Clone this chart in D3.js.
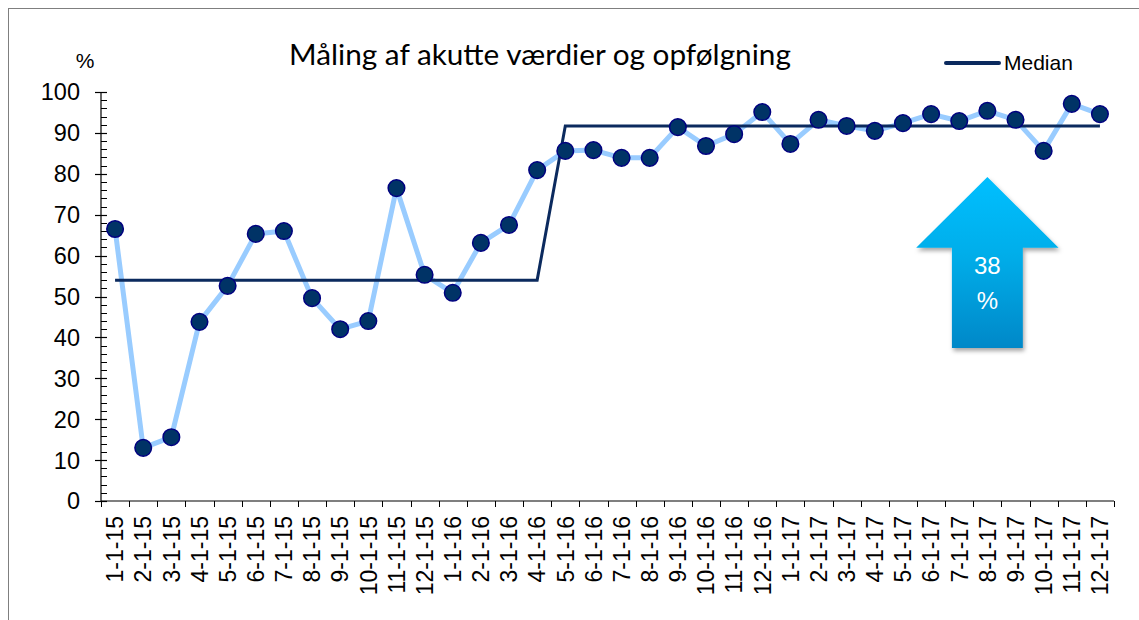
<!DOCTYPE html>
<html>
<head>
<meta charset="utf-8">
<script src="https://cdn.jsdelivr.net/npm/d3@7"></script>
<style>
  html, body { margin: 0; padding: 0; background: #fff; }
  svg { display: block; }
</style>
</head>
<body>
<svg id="chart" width="1139" height="620"></svg>
<script>
const categories = ["1-1-15","2-1-15","3-1-15","4-1-15","5-1-15","6-1-15","7-1-15","8-1-15","9-1-15","10-1-15","11-1-15","12-1-15",
  "1-1-16","2-1-16","3-1-16","4-1-16","5-1-16","6-1-16","7-1-16","8-1-16","9-1-16","10-1-16","11-1-16","12-1-16",
  "1-1-17","2-1-17","3-1-17","4-1-17","5-1-17","6-1-17","7-1-17","8-1-17","9-1-17","10-1-17","11-1-17","12-1-17"];
const values = [66.5,13,15.6,43.8,52.6,65.3,66,49.6,42,44,76.5,55.3,
  50.9,63.1,67.5,80.9,85.6,85.8,83.9,83.9,91.4,86.8,89.7,95.1,
  87.3,93.2,91.7,90.5,92.4,94.6,92.9,95.4,93.2,85.6,97.1,94.6];
const median = [54,54,54,54,54,54,54,54,54,54,54,54,54,54,54,54,
  91.7,91.7,91.7,91.7,91.7,91.7,91.7,91.7,91.7,91.7,91.7,91.7,91.7,91.7,91.7,91.7,91.7,91.7,91.7,91.7];
const yTicks = [0,10,20,30,40,50,60,70,80,90,100];
const titleText = "Måling af akutte værdier og opfølgning";
const legendLabel = "Median";
const arrowLabel = ["38", "%"];
const arrowAt = "8-1-17";
const arrowTop = 79.2, arrowShoulder = 61.9, arrowBottom = 37.4;

const svg = d3.select("#chart");
const defs = svg.append("defs");
const grad = defs.append("linearGradient").attr("id","arrowGrad").attr("x1",0).attr("y1",0).attr("x2",0).attr("y2",1);
grad.append("stop").attr("offset","0%").attr("stop-color","#00BFFF");
grad.append("stop").attr("offset","45%").attr("stop-color","#00AEEA");
grad.append("stop").attr("offset","100%").attr("stop-color","#0088C8");
const filt = defs.append("filter").attr("id","shadow").attr("x","-20%").attr("y","-20%").attr("width","140%").attr("height","140%");
filt.append("feDropShadow").attr("dx",1.5).attr("dy",3).attr("stdDeviation",2.2).attr("flood-color","#000").attr("flood-opacity",0.35);

// frame
svg.append("rect").attr("x",8.5).attr("y",8.5).attr("width",1200).attr("height",700)
  .attr("fill","none").attr("stroke","#7f7f7f").attr("stroke-width",1);

const x = d3.scaleBand().domain(categories).range([101, 1114]).paddingInner(0).paddingOuter(0);
const y = d3.scaleLinear().domain([0,100]).range([501, 92]);
const cx = d => x(d) + x.bandwidth()/2;

const axisFont = "'Liberation Sans', Arial, sans-serif";

// Y axis
const yAxisG = svg.append("g").attr("transform","translate(101,0)");
yAxisG.append("line").attr("x1",0).attr("x2",0).attr("y1",y(100)).attr("y2",y(0)).attr("stroke","#000").attr("stroke-width",1.2);
const minor = d3.range(0,101,2).filter(v => v % 10 !== 0);
yAxisG.selectAll(".minor").data(minor).join("line")
  .attr("x1",0).attr("x2",6).attr("y1",d=>Math.round(y(d))+0.5).attr("y2",d=>Math.round(y(d))+0.5)
  .attr("stroke","#000").attr("stroke-width",1);
yAxisG.selectAll(".major").data(yTicks).join("line")
  .attr("x1",-6).attr("x2",6).attr("y1",d=>Math.round(y(d))+0.5).attr("y2",d=>Math.round(y(d))+0.5)
  .attr("stroke","#000").attr("stroke-width",1.2);
yAxisG.selectAll(".lab").data(yTicks).join("text")
  .attr("x",-21).attr("y",d=>y(d)).attr("dy","0.36em").attr("text-anchor","end")
  .attr("font-family",axisFont).attr("font-size",23.5).attr("fill","#000").text(d=>d);

svg.append("text").attr("x",85).attr("y",68).attr("text-anchor","middle")
  .attr("font-family",axisFont).attr("font-size",21).text("%");

// X axis
const xAxisG = svg.append("g").attr("transform",`translate(0,${y(0)})`);
xAxisG.append("line").attr("x1",101).attr("x2",1114).attr("y1",0).attr("y2",0).attr("stroke","#000").attr("stroke-width",1.2);
const boundaries = categories.map(c => x(c)).concat([x(categories[categories.length-1]) + x.bandwidth()]);
xAxisG.selectAll(".xt").data(boundaries).join("line")
  .attr("x1",d=>Math.round(d)+0.5).attr("x2",d=>Math.round(d)+0.5).attr("y1",0).attr("y2",6)
  .attr("stroke","#000").attr("stroke-width",1);
xAxisG.selectAll(".xl").data(categories).join("text")
  .attr("transform",d=>`translate(${cx(d)},15) rotate(-90)`)
  .attr("text-anchor","end").attr("dy","0.36em")
  .attr("font-family",axisFont).attr("font-size",23).attr("fill","#000").text(d=>d);

// data line
const lineGen = d3.line().x((d,i)=>cx(categories[i])).y(d=>y(d));
svg.append("path").datum(values).attr("d",lineGen)
  .attr("fill","none").attr("stroke","#99CCFF").attr("stroke-width",5).attr("stroke-linejoin","round");

// median line
svg.append("path").datum(median).attr("d",lineGen)
  .attr("fill","none").attr("stroke","#0B2A5E").attr("stroke-width",3);

// markers
svg.selectAll(".pt").data(values).join("circle")
  .attr("cx",(d,i)=>cx(categories[i])).attr("cy",d=>y(d)).attr("r",8.3)
  .attr("fill","#003366").attr("stroke","#000080").attr("stroke-width",1.5);

// title
const title = svg.append("text").attr("x",540).attr("y",65).attr("text-anchor","middle")
  .attr("font-family","Lato, 'Open Sans', sans-serif").attr("font-size",27).attr("fill","#000").text(titleText);
const tw = title.node().getComputedTextLength();
title.attr("font-size", 27 * 502 / tw);

// legend
svg.append("line").attr("x1",946).attr("x2",999).attr("y1",63).attr("y2",63)
  .attr("stroke","#0B2A5E").attr("stroke-width",4).attr("stroke-linecap","round");
svg.append("text").attr("x",1004).attr("y",70).attr("font-family",axisFont).attr("font-size",21).text(legendLabel);

// arrow annotation
const ax = cx(arrowAt);
const headHalf = x.bandwidth()*2.53, shaftHalf = x.bandwidth()*1.26;
const pts = [
  [ax, y(arrowTop)],
  [ax+headHalf, y(arrowShoulder)],
  [ax+shaftHalf, y(arrowShoulder)],
  [ax+shaftHalf, y(arrowBottom)],
  [ax-shaftHalf, y(arrowBottom)],
  [ax-shaftHalf, y(arrowShoulder)],
  [ax-headHalf, y(arrowShoulder)]
];
svg.append("path").attr("d", d3.line()(pts) + "Z")
  .attr("fill","url(#arrowGrad)").attr("filter","url(#shadow)");
svg.append("text").attr("x",ax).attr("y",274).attr("text-anchor","middle")
  .attr("font-family",axisFont).attr("font-size",24).attr("fill","#fff").text(arrowLabel[0]);
svg.append("text").attr("x",ax).attr("y",309).attr("text-anchor","middle")
  .attr("font-family",axisFont).attr("font-size",24).attr("fill","#fff").text(arrowLabel[1]);
</script>
</body>
</html>
